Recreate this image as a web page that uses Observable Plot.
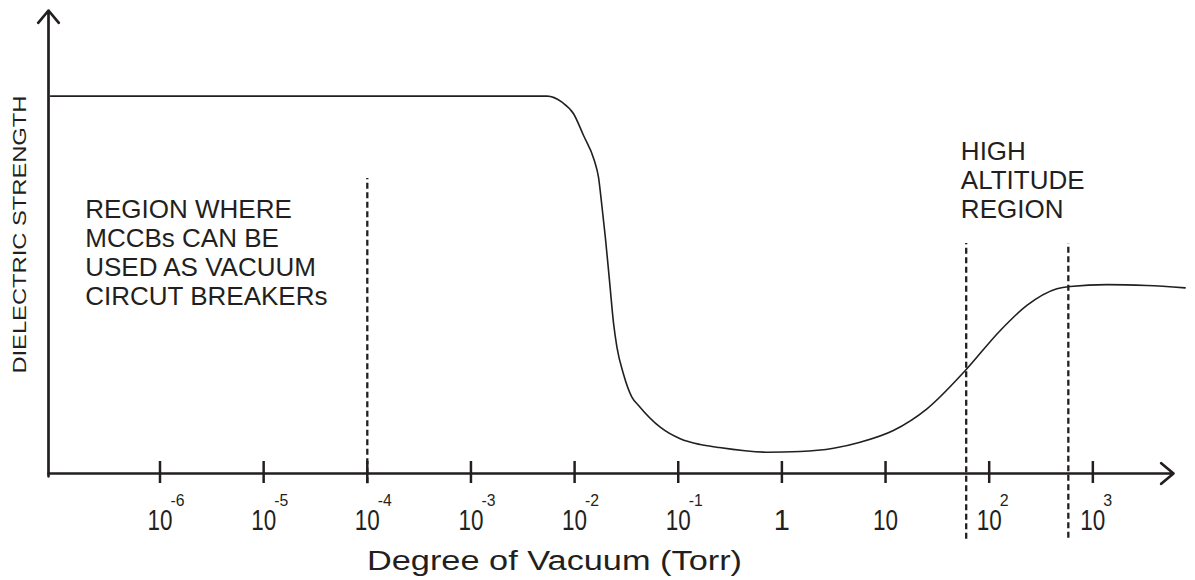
<!DOCTYPE html>
<html>
<head>
<meta charset="utf-8">
<script src="https://cdn.jsdelivr.net/npm/d3@7"></script>
<script src="https://cdn.jsdelivr.net/npm/@observablehq/plot@0.6"></script>
<style>
  html, body { margin: 0; padding: 0; background: #fff; }
  #chart svg { display: block; }
</style>
</head>
<body>
<div id="chart"></div>
<script>
// Curve: degree of vacuum (Torr) vs dielectric strength (arbitrary units, 0..100)
const pressure = [8.8e-8, 1e-3, 5.42e-3, 7.55e-3, 9.77e-3, 1.22e-2, 1.55e-2, 1.70e-2, 1.84e-2, 1.98e-2,
  2.17e-2, 2.38e-2, 2.56e-2, 2.96e-2, 3.57e-2, 4.14e-2, 6.70e-2, 0.1045, 0.163, 0.236,
  0.718, 1.50, 3.15, 5.69, 11.9, 25.1, 58.6, 128, 231, 450, 604, 1365, 3319, 7762];
const strength = [81.5, 81.5, 81.5, 80.2, 77.7, 73.0, 67.6, 64.0, 57.5, 51.0,
  41.7, 32.3, 27.3, 21.5, 16.5, 14.7, 10.0, 7.5, 6.26, 5.68,
  4.60, 4.75, 5.46, 6.76, 9.29, 13.97, 22.2, 30.9, 36.3, 39.9, 40.4, 40.8, 40.6, 40.1];

// Axis ticks
const tickValues = [1e-6, 1e-5, 1e-4, 1e-3, 1e-2, 1e-1, 1, 10, 100, 1000];
const tickBase = ["10", "10", "10", "10", "10", "10", "1", "10", "10", "10"];
const tickExp = ["-6", "-5", "-4", "-3", "-2", "-1", "", "", "2", "3"];

// Dashed region boundaries
const dashX = [1e-4, 60, 580];
const dashTop = [63.7, 49.7, 49.7];
const dashBottom = [-2.2, -14.2, -14.0];

// Extents
const xDomain = [8.4e-8, 6.0e3];
const yDomain = [0, 100];

// Texts
const xTitle = "Degree of Vacuum (Torr)";
const yTitle = "DIELECTRIC STRENGTH";
const notes = ["REGION WHERE\nMCCBs CAN BE\nUSED AS VACUUM\nCIRCUT BREAKERs", "HIGH\nALTITUDE\nREGION"];
const noteX = [1.9e-7, 53.3];
const noteY = [59.7, 72.2];

const ink = "#231f20";
const sans = "Liberation Sans, Arial, Helvetica, sans-serif";

const chart = Plot.plot({
  width: 1195,
  height: 580,
  marginLeft: 48,
  marginRight: 22,
  marginTop: 10,
  marginBottom: 107,
  style: { fontFamily: sans, background: "#fff", color: ink },
  x: { type: "log", domain: xDomain, axis: null },
  y: { domain: yDomain, axis: null },
  marks: [
    // dashed boundaries
    Plot.ruleX(dashX, { x: dashX, y1: dashBottom, y2: dashTop, stroke: ink, strokeWidth: 2.3, strokeDasharray: "6,3.5" }),
    // tick marks
    Plot.ruleX(tickValues, { x: d => d, y1: 0, y2: 0, insetTop: -12, insetBottom: -10, stroke: ink, strokeWidth: 2.5 }),
    // axes with arrowheads
    Plot.arrow([0], { x1: xDomain[0], y1: 0, x2: xDomain[1], y2: 0, stroke: ink, strokeWidth: 2.7, headLength: 8.9, headAngle: 80 }),
    Plot.arrow([0], { x1: xDomain[0], y1: -0.6, x2: xDomain[0], y2: yDomain[1], stroke: ink, strokeWidth: 2.7, headLength: 8.9, headAngle: 80 }),
    // curve
    Plot.line(pressure, { x: pressure, y: strength, curve: "monotone-x", stroke: ink, strokeWidth: 1.6 }),
    // tick labels
    Plot.text(tickValues, { x: d => d, y: 0, text: tickBase, dy: 56, lineAnchor: "bottom", textAnchor: "middle", fontSize: 29, fontFamily: sans, fill: ink }),
    Plot.text(tickValues, { x: d => d, y: 0, text: tickExp, dy: 32, dx: 10.5, lineAnchor: "bottom", textAnchor: "start", fontSize: 16, fontFamily: sans, fill: ink }),
    // titles
    Plot.text([xTitle], { x: 6.4e-3, y: 0, text: d => d, dy: 96.3, lineAnchor: "bottom", textAnchor: "middle", fontSize: 27, fontFamily: sans, fill: ink }),
    Plot.text([yTitle], { x: xDomain[0], y: 51.6, text: d => d, dx: -22.7, rotate: -90, lineAnchor: "bottom", textAnchor: "middle", fontSize: 18.5, fontFamily: sans, fill: ink }),
    // annotations
    Plot.text(notes, { x: noteX, y: noteY, text: d => d, textAnchor: "start", lineAnchor: "top", lineHeight: 1.115, fontSize: 26, fontFamily: sans, fill: ink })
  ]
});

// Condense / stretch texts to the reference's widths
chart.querySelectorAll("text").forEach(t => {
  const s = t.textContent;
  let len = null;
  if (s === xTitle) len = 375;
  else if (s === yTitle) len = 278;
  else if (s === "10") len = 25;
  else if (/^-\d$/.test(s)) len = 14;
  if (len !== null) {
    t.setAttribute("textLength", len);
    t.setAttribute("lengthAdjust", "spacingAndGlyphs");
  }
});

document.getElementById("chart").appendChild(chart);
</script>
</body>
</html>
